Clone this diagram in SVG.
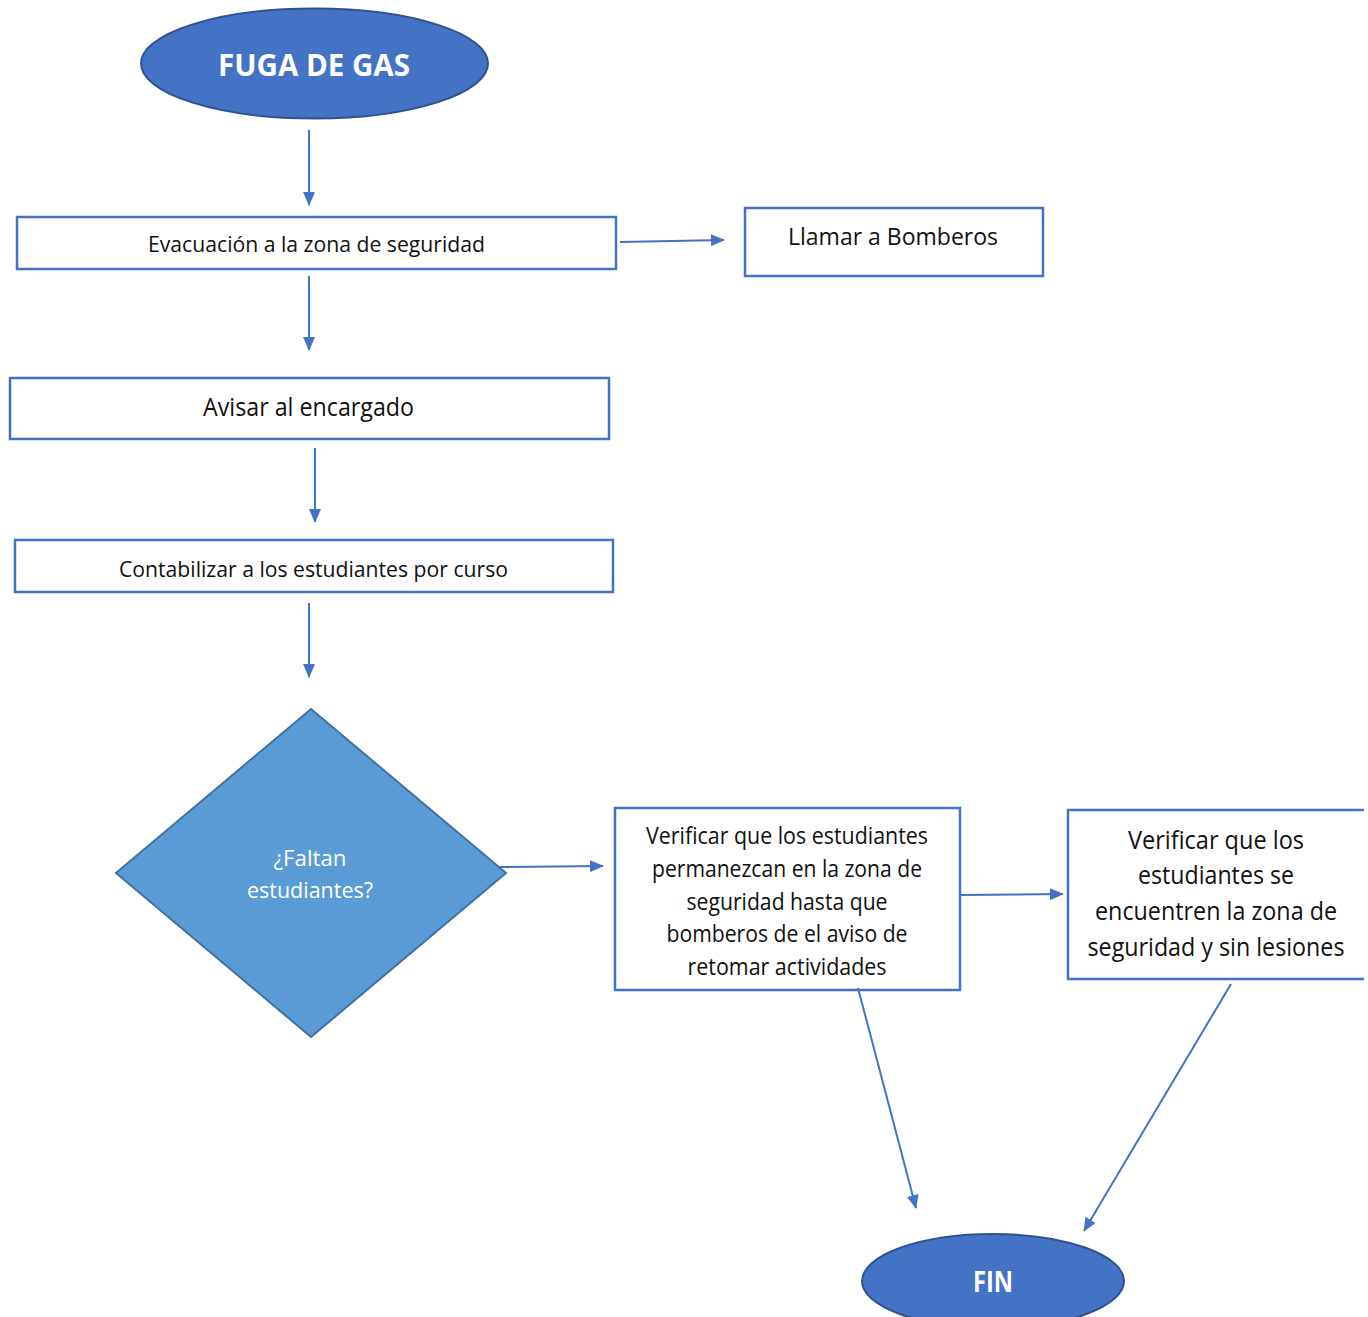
<svg xmlns="http://www.w3.org/2000/svg" width="1368" height="1317" viewBox="0 0 1368 1317">
  <style>
    .box { fill: #ffffff; stroke: #4472C4; stroke-width: 2.5; }
    .term { fill: #4472C4; stroke: #2F528F; stroke-width: 2; }
    .dec { fill: #5B9BD5; stroke: #41719C; stroke-width: 2; }
    .lbl { font-family: "Open Sans", "Noto Sans", "Liberation Sans", sans-serif; fill: #111111; text-anchor: middle; }
    .wlbl { font-family: "Open Sans", "Noto Sans", "Liberation Sans", sans-serif; fill: #ffffff; text-anchor: middle; }
    .bold { font-weight: bold; }
    .conn line { stroke: #4472C4; stroke-width: 2; marker-end: url(#arrow); }
  </style>
  <defs>
    <marker id="arrow" viewBox="0 0 14 12" refX="13" refY="6" markerWidth="14" markerHeight="12" markerUnits="userSpaceOnUse" orient="auto">
      <path d="M0,0 L14,6 L0,12 z" fill="#4472C4"/>
    </marker>
  </defs>
  <rect width="1368" height="1317" fill="#ffffff"/>

  <g id="fuga-de-gas">
    <ellipse class="term" cx="314.5" cy="63.5" rx="173.5" ry="55"/>
    <text class="wlbl bold" x="314" y="76" font-size="30" textLength="192" lengthAdjust="spacingAndGlyphs">FUGA DE GAS</text>
  </g>

  <g id="evacuacion">
    <rect class="box" x="17" y="217" width="599" height="52"/>
    <text class="lbl" x="316.5" y="252" font-size="22" textLength="337" lengthAdjust="spacingAndGlyphs">Evacuación a la zona de seguridad</text>
  </g>

  <g id="llamar-bomberos">
    <rect class="box" x="745" y="208" width="298" height="68"/>
    <text class="lbl" x="893" y="245" font-size="24" textLength="210" lengthAdjust="spacingAndGlyphs">Llamar a Bomberos</text>
  </g>

  <g id="avisar-encargado">
    <rect class="box" x="10" y="378" width="599" height="61"/>
    <text class="lbl" x="308.5" y="416" font-size="25" textLength="211" lengthAdjust="spacingAndGlyphs">Avisar al encargado</text>
  </g>

  <g id="contabilizar">
    <rect class="box" x="15" y="540" width="598" height="52"/>
    <text class="lbl" x="313.5" y="577" font-size="22" textLength="389" lengthAdjust="spacingAndGlyphs">Contabilizar a los estudiantes por curso</text>
  </g>

  <g id="faltan-estudiantes">
    <polygon class="dec" points="311,709 506,873 311,1037 116,873"/>
    <text class="wlbl" x="310" y="866" font-size="22" textLength="73" lengthAdjust="spacingAndGlyphs">¿Faltan</text>
    <text class="wlbl" x="310" y="898" font-size="22" textLength="126" lengthAdjust="spacingAndGlyphs">estudiantes?</text>
  </g>

  <g id="verificar-permanencia">
    <rect class="box" x="615" y="808" width="345" height="182"/>
    <text class="lbl" x="787" y="844" font-size="23" textLength="282" lengthAdjust="spacingAndGlyphs">Verificar que los estudiantes</text>
    <text class="lbl" x="787" y="877" font-size="23" textLength="270" lengthAdjust="spacingAndGlyphs">permanezcan en la zona de</text>
    <text class="lbl" x="787" y="910" font-size="23" textLength="201" lengthAdjust="spacingAndGlyphs">seguridad hasta que</text>
    <text class="lbl" x="787" y="942" font-size="23" textLength="241" lengthAdjust="spacingAndGlyphs">bomberos de el aviso de</text>
    <text class="lbl" x="787" y="975" font-size="23" textLength="199" lengthAdjust="spacingAndGlyphs">retomar actividades</text>
  </g>

  <g id="verificar-lesiones">
    <!-- box runs off the right side; only top, left and bottom edges show -->
    <path class="box" d="M1364,810 H1068 V979 H1364"/>
    <text class="lbl" x="1216" y="849" font-size="25" textLength="176" lengthAdjust="spacingAndGlyphs">Verificar que los</text>
    <text class="lbl" x="1216" y="884" font-size="25" textLength="156" lengthAdjust="spacingAndGlyphs">estudiantes se</text>
    <text class="lbl" x="1216" y="920" font-size="25" textLength="242" lengthAdjust="spacingAndGlyphs">encuentren la zona de</text>
    <text class="lbl" x="1216" y="956" font-size="25" textLength="257" lengthAdjust="spacingAndGlyphs">seguridad y sin lesiones</text>
  </g>

  <g id="fin">
    <ellipse class="term" cx="993" cy="1281" rx="131" ry="47"/>
    <text class="wlbl bold" x="993" y="1292" font-size="28" textLength="40" lengthAdjust="spacingAndGlyphs">FIN</text>
  </g>

  <g id="connectors" class="conn">
    <line x1="309" y1="130" x2="309" y2="205"/>
    <line x1="309" y1="276" x2="309" y2="350"/>
    <line x1="315" y1="448" x2="315" y2="522"/>
    <line x1="309" y1="603" x2="309" y2="677"/>
    <line x1="620" y1="242" x2="724" y2="240"/>
    <line x1="498" y1="867" x2="603" y2="866"/>
    <line x1="960" y1="895" x2="1063" y2="894"/>
    <line x1="858" y1="988" x2="916" y2="1208"/>
    <line x1="1231" y1="984" x2="1084" y2="1231"/>
  </g>
</svg>
